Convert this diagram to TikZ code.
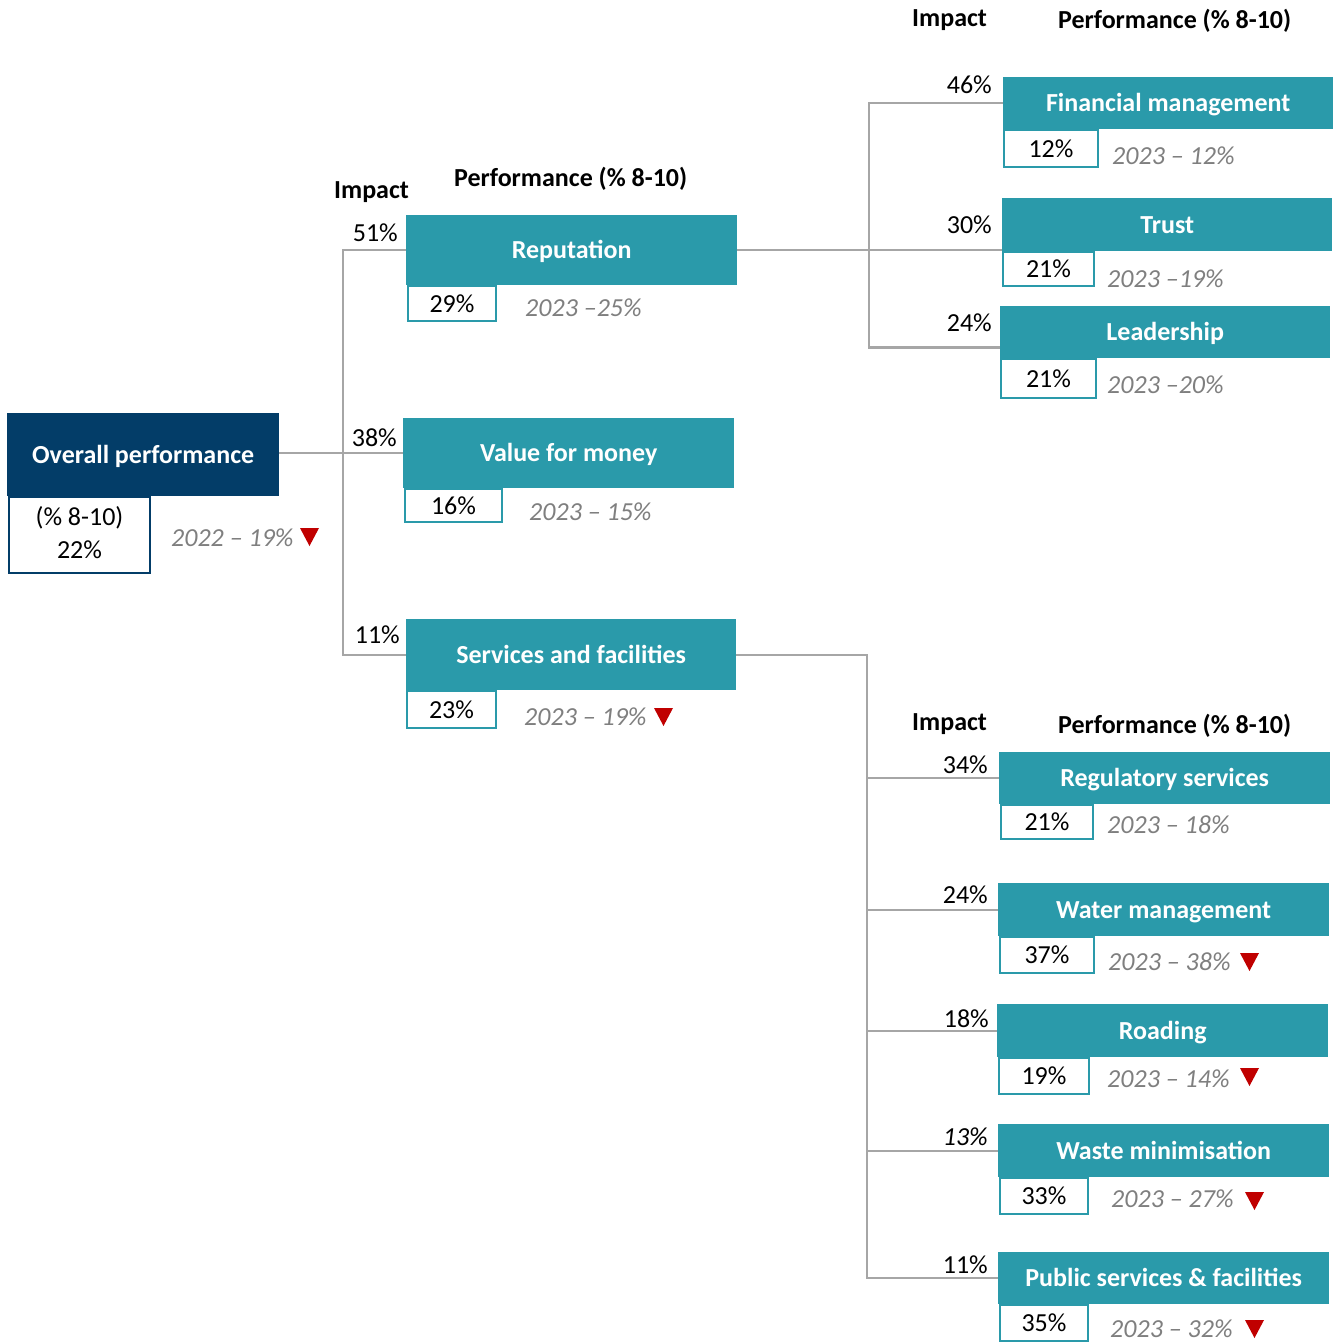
\documentclass[tikz,border=0pt]{standalone}
\usepackage{fontspec}
\setmainfont{Carlito}
\usetikzlibrary{calc}
\definecolor{teal1}{HTML}{2A9AAA}
\definecolor{navy1}{HTML}{033D68}
\definecolor{grey1}{HTML}{7F7F7F}
\definecolor{conn1}{HTML}{A6A6A6}
\definecolor{red1}{HTML}{C00000}
\newcommand\fsz{\fontsize{26}{33}\selectfont}
\tikzset{
  titlebox/.style={fill=teal1, text=white, font=\fsz\bfseries, inner sep=0pt, anchor=north west, text height=17pt, text depth=0pt},
  mainbox/.style={fill=navy1, text=white, font=\fsz\bfseries, inner sep=0pt, anchor=north west, text height=17pt, text depth=0pt},
  subbox/.style={fill=white, draw=teal1, line width=2pt, font=\fsz, inner sep=0pt, anchor=north west, text height=17pt, text depth=0pt},
  hdr/.style={font=\fsz\bfseries, inner sep=0pt, anchor=base west},
  imp/.style={font=\fsz, inner sep=0pt, anchor=base east},
  yr/.style={font=\fsz\itshape, text=grey1, inner sep=0pt, anchor=base west},
  conn/.style={draw=conn1, line width=2.2pt},
  redtri/.style={fill=red1},
}
\newcommand\dtri[2]{\fill[redtri] (#1,#2) -- ++(19,0) -- ++(-9.5,18) -- cycle;}
\begin{document}
\begin{tikzpicture}[x=1pt,y=-1pt]
\useasboundingbox (0,0) rectangle (1338,1342);

% headers
\node[hdr] (h1i) at (334,198) {Impact};
\node[hdr] (h1p) at (454,186) {Performance (\% 8-10)};
\node[hdr] (h2i) at (912,26) {Impact};
\node[hdr] (h2p) at (1058,28) {Performance (\% 8-10)};
\node[hdr] (h3i) at (912,730) {Impact};
\node[hdr] (h3p) at (1058,733) {Performance (\% 8-10)};

% sub boxes
\node[subbox, draw=navy1, minimum width=141pt, minimum height=76pt, align=center, text height=, text depth=6pt] (ovsub) at (8,496) {(\% 8-10)\\22\%};
\node[subbox, minimum width=88pt, minimum height=35pt] (repsub) at (407,285) {29\%};
\node[subbox, minimum width=97pt, minimum height=33pt] (valsub) at (404,488) {16\%};
\node[subbox, minimum width=89pt, minimum height=37pt] (svcsub) at (406,690) {23\%};
\node[subbox, minimum width=94pt, minimum height=37pt] (finsub) at (1003,129) {12\%};
\node[subbox, minimum width=91pt, minimum height=34pt] (trustsub) at (1002,251) {21\%};
\node[subbox, minimum width=95pt, minimum height=39pt] (leadsub) at (1000,358) {21\%};
\node[subbox, minimum width=92pt, minimum height=34pt] (regsub) at (1000,804) {21\%};
\node[subbox, minimum width=94pt, minimum height=36pt] (watersub) at (999,936) {37\%};
\node[subbox, minimum width=90pt, minimum height=36pt] (roadsub) at (998,1057) {19\%};
\node[subbox, minimum width=88pt, minimum height=36pt] (wastesub) at (999,1177) {33\%};
\node[subbox, minimum width=88pt, minimum height=36pt] (pubsub) at (999,1304) {35\%};

% title boxes
\node[mainbox, minimum width=272pt, minimum height=83pt] (overall) at (7,413) {Overall performance};
\node[titlebox, minimum width=331pt, minimum height=70pt] (rep) at (406,215) {Reputation};
\node[titlebox, minimum width=331pt, minimum height=70pt] (value) at (403,418) {Value for money};
\node[titlebox, minimum width=330pt, minimum height=71pt] (svc) at (406,619) {Services and facilities};
\node[titlebox, minimum width=330pt, minimum height=52pt] (fin) at (1003,77) {Financial management};
\node[titlebox, minimum width=330pt, minimum height=53pt] (trust) at (1002,198) {Trust};
\node[titlebox, minimum width=330pt, minimum height=52pt] (lead) at (1000,306) {Leadership};
\node[titlebox, minimum width=331pt, minimum height=52pt] (reg) at (999,752) {Regulatory services};
\node[titlebox, minimum width=331pt, minimum height=53pt] (water) at (998,883) {Water management};
\node[titlebox, minimum width=331pt, minimum height=53pt] (road) at (997,1004) {Roading};
\node[titlebox, minimum width=331pt, minimum height=53pt] (waste) at (998,1124) {Waste minimisation};
\node[titlebox, minimum width=331pt, minimum height=52pt] (pub) at (998,1252) {Public services \& facilities};

% impact labels
\node[imp] (i1) at (398,241) {51\%};
\node[imp] (i2) at (397,446) {38\%};
\node[imp] (i3) at (400,643) {11\%};
\node[imp] (i4) at (992,93) {46\%};
\node[imp] (i5) at (992,233) {30\%};
\node[imp] (i6) at (992,331) {24\%};
\node[imp] (i7) at (988,773) {34\%};
\node[imp] (i8) at (988,903) {24\%};
\node[imp] (i9) at (989,1027) {18\%};
\node[imp, font=\fsz\itshape] (i10) at (988,1145) {13\%};
\node[imp] (i11) at (988,1273) {11\%};

% previous-year labels
\node[yr] (y0) at (171,546) {2022 – 19\%};
\node[yr] (y1) at (525,316) {2023 –25\%};
\node[yr] (y2) at (529,520) {2023 – 15\%};
\node[yr] (y3) at (524,725) {2023 – 19\%};
\node[yr] (y4) at (1112,164) {2023 – 12\%};
\node[yr] (y5) at (1107,287) {2023 –19\%};
\node[yr] (y6) at (1107,393) {2023 –20\%};
\node[yr] (y7) at (1107,833) {2023 – 18\%};
\node[yr] (y8) at (1108,970) {2023 – 38\%};
\node[yr] (y9) at (1107,1087) {2023 – 14\%};
\node[yr] (y10) at (1111,1207) {2023 – 27\%};
\node[yr] (y11) at (1110,1337) {2023 – 32\%};

% red triangles
\dtri{300}{528}
\dtri{654}{708}
\dtri{1240}{953}
\dtri{1240}{1068}
\dtri{1245}{1192}
\dtri{1245}{1320}

% connectors
\coordinate (t1) at (343,453);
\coordinate (t2) at (869,250);
\coordinate (t3) at (867,654);
\coordinate (leadc) at ($(lead.south west)+(0,-11)$);

\draw[conn] (value.west -| overall.east) -- (value.west);
\draw[conn] (rep.west) -- (rep.west -| t1) -- (svc.west -| t1) -- (svc.west);

\draw[conn] (rep.east) -- (rep.east -| trust.west);
\draw[conn] (fin.west) -- (fin.west -| t2) -- (leadc -| t2) -- (leadc);

\draw[conn] (svc.east) -- (svc.east -| t3) -- (pub.west -| t3) -- (pub.west);
\draw[conn] (reg.west -| t3) -- (reg.west);
\draw[conn] (water.west -| t3) -- (water.west);
\draw[conn] (road.west -| t3) -- (road.west);
\draw[conn] (waste.west -| t3) -- (waste.west);
\end{tikzpicture}
\end{document}
